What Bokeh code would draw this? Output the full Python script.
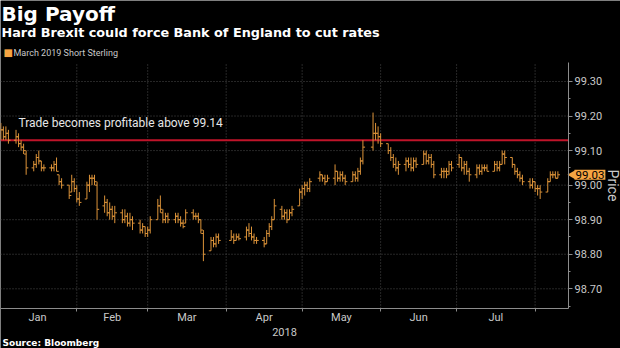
import math
import pandas as pd
from bokeh.plotting import figure
from bokeh.models import (Range1d, FixedTicker, Label, PrintfTickFormatter,
                          ColumnDataSource)
from bokeh.embed import file_html
from bokeh.resources import INLINE

# ---------------- data ----------------
title_text = "Big Payoff"
subtitle_text = "Hard Brexit could force Bank of England to cut rates"
series_name = "March 2019 Short Sterling"
source_text = "Source: Bloomberg"
threshold = 99.13
threshold_text = "Trade becomes profitable above 99.14"
year_label = "2018"
y_label = "Price"

first_day = "2018-01-02"
last_day = "2018-08-10"
holidays = ["2018-03-30", "2018-04-02", "2018-05-07", "2018-05-28"]

month_names = ["Jan", "Feb", "Mar", "Apr", "May", "Jun", "Jul"]
month_starts = ["2018-01-01", "2018-02-01", "2018-03-01", "2018-04-01",
                "2018-05-01", "2018-06-01", "2018-07-01", "2018-08-01"]
y_ticks = [98.70, 98.80, 98.90, 99.00, 99.10, 99.20, 99.30]
y_minor = [98.65, 98.75, 98.85, 98.95, 99.05, 99.15, 99.25]

opens = [
    99.15, 99.16, 99.14, 99.15, 99.13, 99.14, 99.12, 99.11, 99.09, 99.05, 99.06, 99.08, 99.07, 99.05, 99.05, 99.05, 99.06, 99.03, 99.01, 99.00, 98.98, 99.01,
    98.99, 98.96, 98.96, 99.00, 99.02, 99.02, 99.00, 98.94, 98.95, 98.92, 98.93, 98.91, 98.92, 98.90, 98.91, 98.89, 98.90, 98.89, 98.87, 98.88,
    98.86, 98.87, 98.90, 98.94, 98.92, 98.90, 98.91, 98.90, 98.91, 98.90, 98.89, 98.89, 98.92, 98.91, 98.91, 98.90, 98.86, 98.81, 98.84, 98.83, 98.85,
    98.84, 98.85, 98.84, 98.85, 98.85, 98.87, 98.86, 98.85, 98.84, 98.84, 98.83, 98.86, 98.88, 98.90, 98.93, 98.91, 98.92, 98.90, 98.92, 98.94,
    98.98, 98.99, 99.00, 98.99, 99.02, 99.03, 99.02, 99.01, 99.02, 99.04, 99.02, 99.03, 99.02, 99.01, 99.03, 99.02, 99.04, 99.07, 99.11, 99.15, 99.15,
    99.14, 99.12, 99.10, 99.08, 99.06, 99.05, 99.06, 99.07, 99.06, 99.05, 99.07, 99.06, 99.09, 99.07, 99.08, 99.06, 99.03, 99.04, 99.04, 99.04, 99.06,
    99.06, 99.08, 99.05, 99.06, 99.04, 99.03, 99.05, 99.04, 99.05, 99.05, 99.04, 99.06, 99.05, 99.06, 99.09, 99.08, 99.06, 99.04, 99.03, 99.02, 99.01, 99.00,
    99.01, 98.99, 98.99, 98.98, 99.01, 99.03, 99.03, 99.02,
]
highs = [
    99.18, 99.17, 99.17, 99.16, 99.16, 99.15, 99.13, 99.12, 99.10, 99.07, 99.09, 99.10, 99.07, 99.06, 99.06, 99.07, 99.08, 99.03, 99.02, 99.00, 99.03, 99.02,
    99.00, 98.98, 99.01, 99.03, 99.03, 99.03, 99.01, 98.97, 98.96, 98.95, 98.94, 98.94, 98.93, 98.93, 98.92, 98.92, 98.91, 98.90, 98.89, 98.88,
    98.88, 98.91, 98.96, 98.97, 98.93, 98.92, 98.92, 98.92, 98.92, 98.91, 98.90, 98.93, 98.93, 98.92, 98.92, 98.90, 98.87, 98.85, 98.85, 98.86, 98.86,
    98.87, 98.86, 98.86, 98.86, 98.88, 98.89, 98.88, 98.86, 98.85, 98.85, 98.87, 98.89, 98.91, 98.96, 98.94, 98.93, 98.93, 98.93, 98.94, 98.99,
    99.00, 99.01, 99.01, 99.02, 99.04, 99.03, 99.03, 99.03, 99.06, 99.04, 99.04, 99.04, 99.03, 99.04, 99.04, 99.05, 99.08, 99.13, 99.21, 99.18, 99.17,
    99.15, 99.12, 99.11, 99.09, 99.08, 99.07, 99.08, 99.08, 99.08, 99.08, 99.08, 99.10, 99.10, 99.09, 99.09, 99.07, 99.05, 99.05, 99.05, 99.07, 99.07,
    99.09, 99.08, 99.07, 99.07, 99.05, 99.06, 99.06, 99.06, 99.06, 99.06, 99.07, 99.07, 99.07, 99.10, 99.10, 99.08, 99.06, 99.05, 99.04, 99.03, 99.02, 99.02,
    99.01, 99.00, 99.00, 99.02, 99.04, 99.04, 99.04, 99.04,
]
lows = [
    99.13, 99.13, 99.13, 99.12, 99.12, 99.11, 99.10, 99.09, 99.03, 99.04, 99.05, 99.06, 99.04, 99.04, 99.04, 99.04, 99.04, 99.00, 98.99, 98.96, 98.98, 98.98,
    98.95, 98.94, 98.96, 98.98, 99.00, 99.00, 98.90, 98.92, 98.91, 98.90, 98.90, 98.89, 98.89, 98.89, 98.88, 98.88, 98.87, 98.86, 98.86, 98.85,
    98.85, 98.86, 98.90, 98.92, 98.89, 98.89, 98.89, 98.89, 98.89, 98.88, 98.875, 98.89, 98.90, 98.90, 98.89, 98.86, 98.78, 98.81, 98.82, 98.82, 98.83,
    98.84, 98.83, 98.84, 98.84, 98.84, 98.85, 98.84, 98.83, 98.83, 98.82, 98.83, 98.85, 98.87, 98.90, 98.90, 98.90, 98.89, 98.90, 98.91, 98.94,
    98.96, 98.97, 98.98, 98.98, 99.01, 99.01, 99.00, 99.01, 99.00, 99.01, 99.01, 99.01, 99.00, 99.01, 99.01, 99.01, 99.03, 99.06, 99.10, 99.13, 99.12,
    99.11, 99.09, 99.07, 99.05, 99.04, 99.03, 99.04, 99.05, 99.04, 99.04, 99.05, 99.06, 99.06, 99.06, 99.05, 99.02, 99.02, 99.02, 99.02, 99.03, 99.04,
    99.05, 99.04, 99.03, 99.03, 99.01, 99.02, 99.03, 99.03, 99.04, 99.04, 99.04, 99.04, 99.04, 99.06, 99.06, 99.05, 99.03, 99.02, 99.01, 99.00, 98.99, 98.99,
    98.98, 98.97, 98.96, 98.98, 99.01, 99.02, 99.02, 99.02,
]
closes = [
    99.16, 99.14, 99.15, 99.13, 99.14, 99.12, 99.11, 99.10, 99.05, 99.06, 99.08, 99.07, 99.05, 99.05, 99.05, 99.06, 99.04, 99.01, 99.00, 98.97, 99.01, 98.99,
    98.96, 98.95, 99.00, 99.02, 99.02, 99.01, 98.93, 98.95, 98.92, 98.93, 98.91, 98.92, 98.90, 98.91, 98.89, 98.90, 98.89, 98.87, 98.88, 98.86,
    98.87, 98.90, 98.94, 98.93, 98.90, 98.91, 98.90, 98.91, 98.90, 98.89, 98.88, 98.92, 98.91, 98.91, 98.90, 98.87, 98.80, 98.84, 98.83, 98.85, 98.84,
    98.85, 98.84, 98.85, 98.845, 98.87, 98.86, 98.85, 98.84, 98.84, 98.83, 98.86, 98.88, 98.90, 98.94, 98.91, 98.92, 98.90, 98.92, 98.93, 98.98,
    98.99, 99.00, 98.99, 99.01, 99.03, 99.02, 99.01, 99.02, 99.04, 99.02, 99.03, 99.02, 99.01, 99.03, 99.02, 99.04, 99.07, 99.11, 99.15, 99.15, 99.14,
    99.12, 99.10, 99.08, 99.06, 99.05, 99.06, 99.07, 99.06, 99.05, 99.07, 99.06, 99.09, 99.07, 99.08, 99.06, 99.03, 99.04, 99.04, 99.03, 99.06, 99.05,
    99.08, 99.05, 99.06, 99.04, 99.03, 99.05, 99.04, 99.05, 99.05, 99.04, 99.06, 99.05, 99.06, 99.09, 99.08, 99.06, 99.04, 99.03, 99.02, 99.01, 99.00, 99.01,
    98.99, 98.99, 98.98, 99.01, 99.03, 99.03, 99.02, 99.03,
]

# ---------------- derived positions ----------------
origin = pd.Timestamp("2018-01-01")
dates = pd.bdate_range(first_day, last_day, freq="C", holidays=holidays)
n = min(len(dates), len(closes))
days = [(d - origin).days for d in dates[:n]]
starts = [(pd.Timestamp(s) - origin).days for s in month_starts]
mids = [(a + b) / 2 for a, b in zip(starts[:-1], starts[1:])]

W, H = 620, 348
# chart area in data units; the frame itself covers the whole canvas
X_LEFT, X_AXIS, X_RIGHT = 0.869, 225.2, 245.73
Y_BOT, Y_TOP = 98.643, 99.355
Y_CANVAS_BOT, Y_CANVAS_TOP = 98.5272, 99.5344

def cy(y_canvas):
    """canvas y (from top) -> screen units measured upward from the bottom"""
    return H - y_canvas

ORANGE = "#f5a442"
BAR = "#dc9339"
GRID = "#4d4d4d"
AXIS = "#8c8c8c"
TXT = "#c9c9c9"
FONT = "Roboto"

tick_w = 0.85
src = ColumnDataSource(dict(
    x=days,
    xl=[d - tick_w for d in days],
    xr=[d + tick_w for d in days],
    o=opens[:n], h=highs[:n], l=lows[:n], c=closes[:n],
))

p = figure(width=W, height=H, output_backend="svg", toolbar_location=None,
           x_range=Range1d(X_LEFT, X_RIGHT), y_range=Range1d(Y_CANVAS_BOT, Y_CANVAS_TOP),
           y_axis_location="right", min_border=0,
           min_border_left=0, min_border_right=0, min_border_top=0, min_border_bottom=0)
p.background_fill_color = "black"
p.border_fill_color = "black"
p.outline_line_color = None
p.grid.visible = False

# dotted grid, bounded to the chart area
p.segment(x0=[X_LEFT] * len(y_ticks), y0=y_ticks, x1=[X_AXIS] * len(y_ticks), y1=y_ticks,
          line_color=GRID, line_dash="1 2", line_width=1)
p.segment(x0=starts[1:], y0=[Y_BOT] * (len(starts) - 1), x1=starts[1:],
          y1=[Y_TOP] * (len(starts) - 1), line_color=GRID, line_dash="1 2", line_width=1)

# threshold line
p.segment(x0=[X_LEFT], y0=[threshold], x1=[X_AXIS], y1=[threshold],
          line_color="#c0142a", line_width=2)
p.add_layout(Label(x=18, y=threshold + 0.05, x_units="screen", text=threshold_text,
                   text_color="#e6e6e6", text_font=FONT, text_font_size="12px",
                   text_baseline="middle"))

# OHLC bars
p.segment(x0="x", y0="l", x1="x", y1="h", source=src, line_color=BAR, line_width=1)
p.segment(x0="xl", y0="o", x1="x", y1="o", source=src, line_color=BAR, line_width=1)
p.segment(x0="x", y0="c", x1="xr", y1="c", source=src, line_color=BAR, line_width=1)

# y axis (right side of chart area)
ya = p.yaxis[0]
ya.fixed_location = X_AXIS
ya.bounds = (Y_BOT, Y_TOP)
ya.ticker = FixedTicker(ticks=y_ticks, minor_ticks=y_minor)
ya.formatter = PrintfTickFormatter(format="%.2f")
ya.axis_line_color = AXIS
ya.major_tick_line_color = AXIS
ya.minor_tick_line_color = AXIS
ya.major_tick_in = 0
ya.major_tick_out = 4
ya.minor_tick_in = 0
ya.minor_tick_out = 2
ya.major_label_text_color = TXT
ya.major_label_text_font = FONT
ya.major_label_text_font_size = "11px"
ya.major_label_standoff = 2
ya.axis_label = y_label
ya.axis_label_text_color = TXT
ya.axis_label_text_font = FONT
ya.axis_label_text_font_size = "14px"
ya.axis_label_text_font_style = "normal"
ya.axis_label_standoff = 0

# x axis: month names at mid-month, tick marks at month boundaries
xa = p.xaxis[0]
xa.fixed_location = Y_BOT
xa.bounds = (X_LEFT, X_AXIS)
xa.ticker = FixedTicker(ticks=mids, minor_ticks=starts[1:])
xa.major_label_overrides = {m: name for m, name in zip(mids, month_names)}
xa.axis_line_color = AXIS
xa.major_tick_line_color = None
xa.major_tick_in = 0
xa.major_tick_out = 0
xa.minor_tick_line_color = AXIS
xa.minor_tick_in = 0
xa.minor_tick_out = 3
xa.major_label_text_color = TXT
xa.major_label_text_font = FONT
xa.major_label_text_font_size = "11px"
xa.major_label_standoff = 0
xa.axis_label = year_label
xa.axis_label_text_color = TXT
xa.axis_label_text_font = FONT
xa.axis_label_text_font_size = "11px"
xa.axis_label_text_font_style = "normal"
xa.axis_label_standoff = 0

# last price badge: a pointer and the value box
last = closes[n - 1]
p.scatter(x=[X_AXIS + 1.6], y=[last], marker="triangle", size=9, angle=math.pi / 2,
          fill_color=ORANGE, line_color=None)
p.add_layout(Label(x=574, y=last, x_units="screen", text=f"{last:.2f}",
                   text_color="black", text_font=FONT, text_font_size="11.5px",
                   text_baseline="middle", background_fill_color=ORANGE, padding=1))

# titles, legend, source
p.add_layout(Label(x=1, y=cy(13), x_units="screen", y_units="screen", text=title_text,
                   text_color="white", text_font="DejaVu Sans", text_font_style="bold",
                   text_font_size="20px", text_baseline="middle"))
p.add_layout(Label(x=1, y=cy(32), x_units="screen", y_units="screen", text=subtitle_text,
                   text_color="white", text_font="DejaVu Sans", text_font_style="bold",
                   text_font_size="12.8px", text_baseline="middle"))
p.add_layout(Label(x=3, y=cy(52), x_units="screen", y_units="screen", text="\u25a0",
                   text_color=ORANGE, text_font="DejaVu Sans", text_font_size="10px",
                   text_baseline="middle"))
p.add_layout(Label(x=13, y=cy(52), x_units="screen", y_units="screen", text=series_name,
                   text_color=TXT, text_font=FONT, text_font_size="9px",
                   text_baseline="middle"))
p.add_layout(Label(x=2, y=cy(342), x_units="screen", y_units="screen", text=source_text,
                   text_color="white", text_font="DejaVu Sans", text_font_style="bold",
                   text_font_size="9px", text_baseline="middle"))

open("out.html", "w").write(file_html(p, INLINE))
